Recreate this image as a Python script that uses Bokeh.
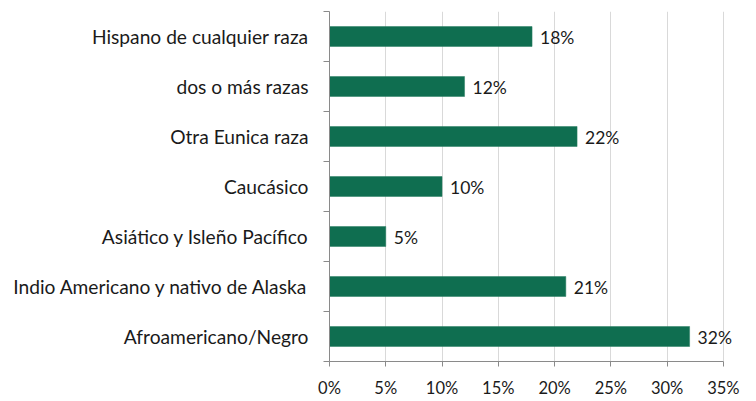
from bokeh.plotting import figure
from bokeh.models import ColumnDataSource, FixedTicker, Range1d
from bokeh.core.properties import value
from bokeh.embed import file_html
from bokeh.resources import INLINE

categories = [
    "Afroamericano/Negro",
    "Indio Americano y nativo de Alaska",
    "Asiático y Isleño Pacífico",
    "Caucásico",
    "Otra Eunica raza",
    "dos o más razas",
    "Hispano de cualquier raza",
]
values = [32, 21, 5, 10, 22, 12, 18]
x_ticks = [0, 5, 10, 15, 20, 25, 30, 35]

FONT = "Lato"
BAR = "#0F6E50"

ypos = [i + 0.5 for i in range(len(categories))]
src = ColumnDataSource(dict(
    y=ypos, v=values, lab=[f"{v}%" for v in values], cat=categories))

# frame extended a little past 35% so the last value label is not clipped;
# axis line and grid are bounded to 0-35%
p = figure(width=756, height=401, output_backend="svg", toolbar_location=None,
           x_range=Range1d(0, 37.5), y_range=Range1d(0, len(categories)),
           min_border_left=329, min_border_right=5, min_border_top=11,
           min_border_bottom=40)
p.outline_line_color = None
p.background_fill_color = "white"
p.border_fill_color = "white"

p.hbar(y="y", right="v", left=0, height=0.4, source=src,
       fill_color=BAR, line_color="#2a7f62", line_width=0.5)
p.text(x="v", y="y", text="lab", source=src, x_offset=8, y_offset=1,
       text_baseline="middle", text_align="left",
       text_font=value(FONT), text_font_size="17.5px", text_color="#1a1a1a")

# x axis
p.xaxis.ticker = FixedTicker(ticks=x_ticks)
p.xaxis.bounds = (0, 35)
p.xaxis.major_label_overrides = {t: f"{t}%" for t in x_ticks}
p.xaxis.major_label_text_font = FONT
p.xaxis.major_label_text_font_size = "16.5px"
p.xaxis.major_label_text_color = "#1a1a1a"
p.xaxis.major_label_standoff = 11
p.xaxis.axis_line_color = "#8a8a8a"
p.xaxis.major_tick_line_color = "#8a8a8a"
p.xaxis.major_tick_out = 5
p.xaxis.major_tick_in = 0
p.xaxis.minor_tick_line_color = None

# y axis
p.yaxis.ticker = FixedTicker(ticks=ypos, minor_ticks=list(range(len(categories) + 1)))
p.yaxis.major_label_overrides = {y: c for y, c in zip(ypos, categories)}
p.yaxis.major_label_text_font = FONT
p.yaxis.major_label_text_font_size = "19.2px"
p.yaxis.major_label_text_color = "#1a1a1a"
p.yaxis.major_label_standoff = 15
p.yaxis.axis_line_color = "#8a8a8a"
p.yaxis.major_tick_line_color = None
p.yaxis.minor_tick_line_color = "#8a8a8a"
p.yaxis.minor_tick_out = 6
p.yaxis.minor_tick_in = 0

p.xgrid.ticker = FixedTicker(ticks=x_ticks)
p.xgrid.bounds = (0, 35)
p.xgrid.grid_line_color = "#d9d9d9"
p.ygrid.grid_line_color = None

open("out.html", "w").write(file_html(p, INLINE))
